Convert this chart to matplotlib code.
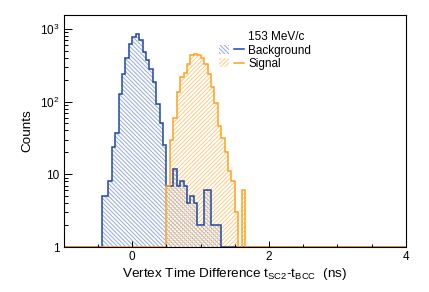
import numpy as np
import matplotlib
matplotlib.use("Agg")
import matplotlib.pyplot as plt
from matplotlib.ticker import MultipleLocator, LogLocator, FixedLocator, FixedFormatter, NullFormatter
from matplotlib.patches import Patch
from matplotlib.lines import Line2D
from matplotlib.legend_handler import HandlerTuple

plt.rcParams['font.family'] = ['Liberation Sans', 'DejaVu Sans']
plt.rcParams['mathtext.fontset'] = 'custom'
plt.rcParams['mathtext.rm'] = 'Liberation Sans'
plt.rcParams['mathtext.it'] = 'Liberation Sans:italic'
plt.rcParams['hatch.linewidth'] = 0.7

# histogram binning (ns)
x_range = (-1.0, 4.0)
bin_width = 0.05

# background (blue) counts, first bin starts at bg_start
bg_start = -0.45
bg_counts = [5, 5, 8, 24, 37, 125, 240, 400, 620, 780,
             850, 690, 480, 370, 280, 185, 92, 50, 25,
             7, 7, 12, 7, 8, 7, 4, 5, 4, 2,
             2, 6, 6, 2, 2, 2]

# signal (orange) counts, first bin starts at sig_start
sig_start = 0.5
sig_counts = [7, 30, 60, 133, 214, 250, 330, 435, 450, 440,
              400, 330, 240, 160, 95, 46, 32, 20, 11, 8,
              3, 0, 6]

legend_title = "153 MeV/c"
labels = ["Background", "Signal"]

blue = "#1f48a6"
blue_hatch = "#93a9d9"
orange = "#ffa21f"
orange_hatch = "#ffcb85"
bg_hatch = "\\" * 8
sig_hatch = "/" * 8


def full_hist(start, counts):
    edges = np.round(np.arange(x_range[0], x_range[1] + bin_width / 2, bin_width), 4)
    vals = np.zeros(len(edges) - 1)
    i0 = int(round((start - x_range[0]) / bin_width))
    vals[i0:i0 + len(counts)] = counts
    # empty bins sit on the bottom of the log axis
    vals[vals < 1] = 1
    return edges, vals


edges, bg = full_hist(bg_start, bg_counts)
_, sig = full_hist(sig_start, sig_counts)

fig = plt.figure(figsize=(4.29, 2.92), dpi=100)
ax = fig.add_axes([0.149, 0.154, 0.797, 0.795])

ax.stairs(bg, edges, baseline=1, fill=True, facecolor="none",
          edgecolor=blue_hatch, hatch=bg_hatch, lw=0)
ax.stairs(sig, edges, baseline=1, fill=True, facecolor="none",
          edgecolor=orange_hatch, hatch=sig_hatch, lw=0)
ax.stairs(bg, edges, baseline=1, color=blue, lw=1.1)
ax.stairs(sig, edges, baseline=1, color=orange, lw=1.1)

ax.set_yscale("log")
ax.set_xlim(*x_range)
ax.set_ylim(1, 1550)

ax.xaxis.set_major_locator(MultipleLocator(2))
ax.xaxis.set_minor_locator(MultipleLocator(0.5))
ax.yaxis.set_major_locator(FixedLocator([1, 10, 100, 1000]))
ax.yaxis.set_major_formatter(FixedFormatter(["1", "10", "$10^{2}$", "$10^{3}$"]))
ax.yaxis.set_minor_locator(LogLocator(base=10, subs=np.arange(2, 10)))
ax.yaxis.set_minor_formatter(NullFormatter())

ax.tick_params(which="both", direction="in", top=False, right=False,
               labelsize=8.5, width=0.7, pad=3)
ax.tick_params(axis="x", which="major", length=4)
ax.tick_params(axis="x", which="minor", length=2)
ax.tick_params(axis="y", which="major", length=5.5)
ax.tick_params(axis="y", which="minor", length=3)
for s in ax.spines.values():
    s.set_linewidth(0.8)

ax.set_xlabel(r"Vertex Time Difference t$_{\mathrm{SC2}}$-t$_{\mathrm{BCC}}$  (ns)",
              fontsize=9.7, labelpad=2)
ax.set_ylabel("Counts", fontsize=9.7, labelpad=5)

handles = [
    Line2D([], [], color="none"),
    (Patch(facecolor="none", edgecolor=blue_hatch, hatch=bg_hatch, lw=0),
     Line2D([], [], color=blue, lw=1.1)),
    (Patch(facecolor="none", edgecolor=orange_hatch, hatch=sig_hatch, lw=0),
     Line2D([], [], color=orange, lw=1.1)),
]
ax.legend(handles, [legend_title] + labels, handler_map={tuple: HandlerTuple(ndivide=None)},
          loc="upper left", bbox_to_anchor=(0.44, 0.95), frameon=False,
          fontsize=8.5, handlelength=2.1, handleheight=0.8, handletextpad=0.35,
          labelspacing=0.12, borderaxespad=0)

fig.savefig("out.png", dpi=100)
